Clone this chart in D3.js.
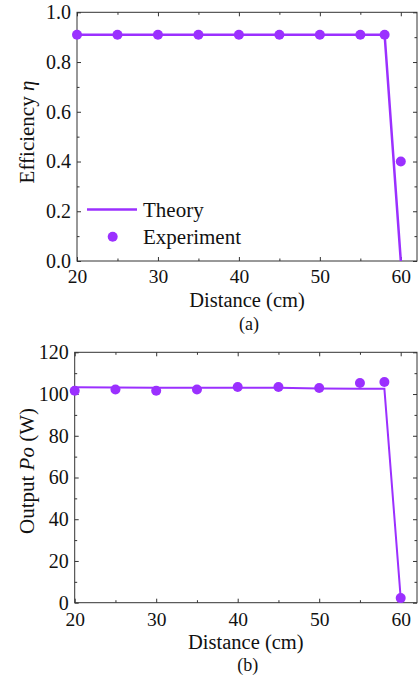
<!DOCTYPE html>
<html><head><meta charset="utf-8">
<script src="https://cdn.jsdelivr.net/npm/d3@7"></script>
<style>body{margin:0;background:#fff}svg{display:block}text{font-family:"Liberation Serif","Times New Roman",serif;fill:#111}</style>
</head><body><svg id="c" width="418" height="679"></svg>
<script>
const distance = [20, 25, 30, 35, 40, 45, 50, 55, 58, 60];
const effTheory = [0.91, 0.91, 0.91, 0.91, 0.91, 0.91, 0.91, 0.91, 0.91, 0.0];
const effExp = [0.91, 0.91, 0.91, 0.91, 0.91, 0.91, 0.91, 0.91, 0.91, 0.40];
const powTheory = [103.2, 103.1, 103.0, 103.0, 103.0, 103.0, 102.6, 102.5, 102.5, 2.2];
const powExp = [101.6, 102.2, 101.6, 102.2, 103.4, 103.4, 102.9, 105.3, 105.8, 2.2];
const xTicks = [20, 30, 40, 50, 60];
const effTicks = [0.0, 0.2, 0.4, 0.6, 0.8, 1.0];
const powTicks = [0, 20, 40, 60, 80, 100, 120];
const color = "#9b30ff";
const svg = d3.select("#c");

function panel(o) {
  const g = svg.append("g");
  const x = d3.scaleLinear().domain([20, 62]).range([o.left, 417]);
  const y = d3.scaleLinear().domain(o.ydom).range([o.bottom, o.top]);
  const axc = "#333";
  g.append("rect").attr("x", o.left).attr("y", o.top).attr("width", 417 - o.left).attr("height", o.bottom - o.top)
    .attr("fill", "none").attr("stroke", axc).attr("stroke-width", 1);
  const xMinor = d3.range(25, 62, 10);
  const yMinor = o.yMinor;
  const bx = g.append("g").attr("transform", `translate(0,${o.bottom})`)
    .call(d3.axisBottom(x).tickValues(xTicks).tickSize(-4).tickPadding(o.xpad).tickFormat(d3.format("d")));
  const tx = g.append("g").attr("transform", `translate(0,${o.top})`)
    .call(d3.axisTop(x).tickValues(xTicks).tickSize(-4).tickFormat(""));
  const bxm = g.append("g").attr("transform", `translate(0,${o.bottom})`)
    .call(d3.axisBottom(x).tickValues(xMinor).tickSize(-2.5).tickFormat(""));
  const txm = g.append("g").attr("transform", `translate(0,${o.top})`)
    .call(d3.axisTop(x).tickValues(xMinor).tickSize(-2.5).tickFormat(""));
  const ly = g.append("g").attr("transform", `translate(${o.left},0)`)
    .call(d3.axisLeft(y).tickValues(o.yticks).tickSize(-4).tickPadding(6).tickFormat(o.fmt));
  const ry = g.append("g").attr("transform", `translate(417,0)`)
    .call(d3.axisRight(y).tickValues(o.yticks).tickSize(-4).tickFormat(""));
  const lym = g.append("g").attr("transform", `translate(${o.left},0)`)
    .call(d3.axisLeft(y).tickValues(yMinor).tickSize(-2.5).tickFormat(""));
  const rym = g.append("g").attr("transform", `translate(417,0)`)
    .call(d3.axisRight(y).tickValues(yMinor).tickSize(-2.5).tickFormat(""));
  [bx, tx, bxm, txm, ly, ry, lym, rym].forEach(a => {
    a.select(".domain").remove();
    a.selectAll("line").attr("stroke", axc);
    a.selectAll("text").style("font-family", '"Liberation Serif",serif').style("font-size", "20px").attr("fill", "#111");
  });
  bx.selectAll("text").style("font-size", "19.5px");
  const cid = "clip" + o.id;
  svg.append("clipPath").attr("id", cid).append("rect")
    .attr("x", o.left).attr("y", o.top - 6).attr("width", 417 - o.left + 6).attr("height", o.bottom - o.top + 6);
  const line = d3.line().x((d, i) => x(distance[i])).y(d => y(d));
  g.append("path").datum(o.theory).attr("d", line).attr("fill", "none")
    .attr("stroke", color).attr("stroke-width", o.lw).attr("clip-path", `url(#${cid})`);
  g.selectAll("circle.e").data(o.exp).enter().append("circle").attr("class", "e")
    .attr("cx", (d, i) => x(distance[i])).attr("cy", d => y(d)).attr("r", 5).attr("fill", color);
  g.append("text").attr("x", (o.left + 417) / 2).attr("y", o.xlabY).attr("text-anchor", "middle")
    .style("font-size", "20.5px").text("Distance (cm)");
  g.append("text").attr("x", (o.left + 417) / 2 + 2).attr("y", o.capY).attr("text-anchor", "middle")
    .style("font-size", "18px").text(o.cap);
  const yl = g.append("text").attr("transform", `translate(34,${o.ylabC}) rotate(-90)`).attr("text-anchor", "middle")
    .style("font-size", "21px");
  o.ylab.forEach(p => yl.append("tspan").attr("font-style", p[1] ? "italic" : "normal").text(p[0]));
  return { g, x, y };
}

const a = panel({ id: "a", left: 77, top: 12.3, bottom: 261, ydom: [0, 1], yticks: effTicks, xpad: 8.5,
  yMinor: [0.1, 0.3, 0.5, 0.7, 0.9], fmt: d3.format(".1f"), theory: effTheory, exp: effExp, lw: 2.5,
  xlabY: 306.5, capY: 330, cap: "(a)", ylabC: 132, ylab: [["Efficiency ", false], ["η", true]] });
const b = panel({ id: "b", left: 74.7, top: 352.3, bottom: 602.7, ydom: [0, 120], yticks: powTicks, xpad: 9,
  yMinor: [10, 30, 50, 70, 90, 110], fmt: d3.format("d"), theory: powTheory, exp: powExp, lw: 2,
  xlabY: 649, capY: 671, cap: "(b)", ylabC: 471, ylab: [["Output ", false], ["Po", true], [" (W)", false]] });

const lg = svg.append("g");
lg.append("line").attr("x1", 87).attr("x2", 137).attr("y1", 209.5).attr("y2", 209.5)
  .attr("stroke", color).attr("stroke-width", 2.5);
lg.append("text").attr("x", 143).attr("y", 217).style("font-size", "21px").text("Theory");
lg.append("circle").attr("cx", 112.7).attr("cy", 236.7).attr("r", 5).attr("fill", color);
lg.append("text").attr("x", 143).attr("y", 244).style("font-size", "21px").text("Experiment");
</script></body></html>
